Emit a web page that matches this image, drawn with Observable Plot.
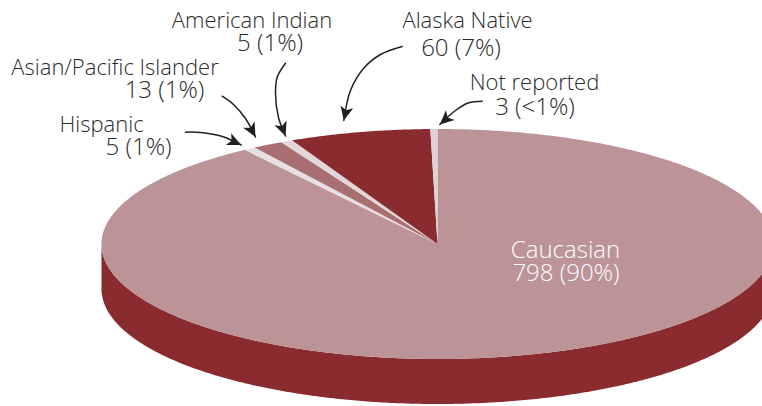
<!DOCTYPE html>
<html>
<head>
<meta charset="utf-8">
<script src="https://cdn.jsdelivr.net/npm/d3@7"></script>
<script src="https://cdn.jsdelivr.net/npm/@observablehq/plot@0.6"></script>
<style>html,body{margin:0;padding:0;background:#fff}svg{display:block}</style>
</head>
<body>
<div id="chart"></div>
<script>
// Data (clockwise from 12 o'clock)
const categories = ["Caucasian", "Hispanic", "Asian/Pacific Islander", "American Indian", "Alaska Native", "Not reported"];
const counts = [798, 5, 13, 5, 60, 3];
const percents = ["90%", "1%", "1%", "1%", "7%", "<1%"];
const colours = ["#bc9397", "#e6dfe4", "#a86e70", "#e2d6d8", "#8a2b30", "#ddd3d6"];

// Pie geometry, in the units of the x and y scales
const cx = 437, cy = 243.5, rx = 336, ry = 115, depth = 45;
const total = d3.sum(counts);
const pt = (t) => [cx + rx * Math.sin(t), cy - ry * Math.cos(t)];

// Wedge outlines derived from the values
let acc = 0;
const wedges = categories.flatMap((name, i) => {
  const a0 = (acc / total) * 2 * Math.PI;
  acc += counts[i];
  const a1 = (acc / total) * 2 * Math.PI;
  const n = Math.max(2, Math.ceil((a1 - a0) / 0.01));
  const arc = d3.range(n + 1).map(k => pt(a0 + (a1 - a0) * k / n));
  return [[cx, cy], ...arc, [cx, cy]].map(([x, y]) => ({name, x, y}));
});

// Side wall of the disc
const wallTop = d3.range(0, 361).map(k => pt(Math.PI / 2 + Math.PI * k / 360));
const wall = [...wallTop, ...wallTop.slice().reverse().map(([x, y]) => [x, y + depth])].map(([x, y]) => ({x, y}));

// Label lines
const nameLines = [
  {text: categories[3], x: 251.5, y: 20},
  {text: categories[2], x: 114.5, y: 67},
  {text: categories[1], x: 101, y: 124},
  {text: categories[4], x: 467, y: 20},
  {text: categories[5], x: 534, y: 82}
];
const countLines = [
  {text: `${counts[3]} (${percents[3]})`, x: 269.5, y: 43},
  {text: `${counts[2]} (${percents[2]})`, x: 164, y: 90},
  {text: `${counts[1]} (${percents[1]})`, x: 138, y: 147},
  {text: `${counts[4]} (${percents[4]})`, x: 460.5, y: 48},
  {text: `${counts[5]} (${percents[5]})`, x: 534.5, y: 107}
];
const pieLines = [
  {text: categories[0], x: 565, y: 250},
  {text: `${counts[0]} (${percents[0]})`, x: 565.5, y: 273}
];

// Annotation arrows, traced from start to tip
const arrows = [
  {id: "h", p: [[185, 131.7], [200, 132], [222, 136], [240.7, 144.5]]},
  {id: "a", p: [[221.7, 95.7], [233, 104], [245, 118], [255, 136.5]]},
  {id: "i", p: [[285, 62.7], [276.7, 76.7], [275, 93], [278, 117], [285, 135.5]]},
  {id: "k", p: [[401.7, 46], [380, 54], [363, 68], [350, 90], [343.3, 120]]},
  {id: "n", p: [[481.7, 100.7], [468.3, 102.3], [455, 110], [439.3, 124]]}
];
const shafts = arrows.flatMap(({id, p}) => p.map(([x, y]) => ({id, x, y})));
const heads = arrows.flatMap(({id, p}) => {
  const [[ax, ay], [bx, by]] = p.slice(-2);
  const len = Math.hypot(bx - ax, by - ay);
  const ux = (bx - ax) / len, uy = (by - ay) / len;
  const nx = -uy, ny = ux, L = 14, W = 6.5, N = 10.5;
  return [
    [bx, by],
    [bx - L * ux + W * nx, by - L * uy + W * ny],
    [bx - N * ux, by - N * uy],
    [bx - L * ux - W * nx, by - L * uy - W * ny],
    [bx, by]
  ].map(([x, y]) => ({id, x, y}));
});

const font = "'Open Sans', sans-serif";
const ink = "#2b2a2b";
const chart = Plot.plot({
  width: 762, height: 406,
  marginTop: 0, marginRight: 0, marginBottom: 0, marginLeft: 0,
  style: {background: "#fff"},
  x: {domain: [0, 762], range: [0, 762], axis: null},
  y: {domain: [0, 406], range: [0, 406], axis: null},
  color: {domain: categories, range: colours},
  marks: [
    Plot.line(wall, {x: "x", y: "y", fill: "#8a2b30", stroke: "none"}),
    Plot.line(wedges, {x: "x", y: "y", z: "name", fill: "name", stroke: "none"}),
    Plot.line(shafts, {x: "x", y: "y", z: "id", stroke: "#231f20", strokeWidth: 1.5, curve: "catmull-rom"}),
    Plot.line(heads, {x: "x", y: "y", z: "id", fill: "#231f20", stroke: "none"}),
    Plot.text(nameLines, {x: "x", y: "y", text: "text", fill: ink, fontSize: 22, fontFamily: font, fontWeight: 300}),
    Plot.text(countLines, {x: "x", y: "y", text: "text", fill: ink, fontSize: 24, fontFamily: font, fontWeight: 300}),
    Plot.text(pieLines, {x: "x", y: "y", text: "text", fill: "#fff", fontSize: 24, fontFamily: font, fontWeight: 300})
  ]
});
document.getElementById("chart").append(chart);
</script>
</body>
</html>
